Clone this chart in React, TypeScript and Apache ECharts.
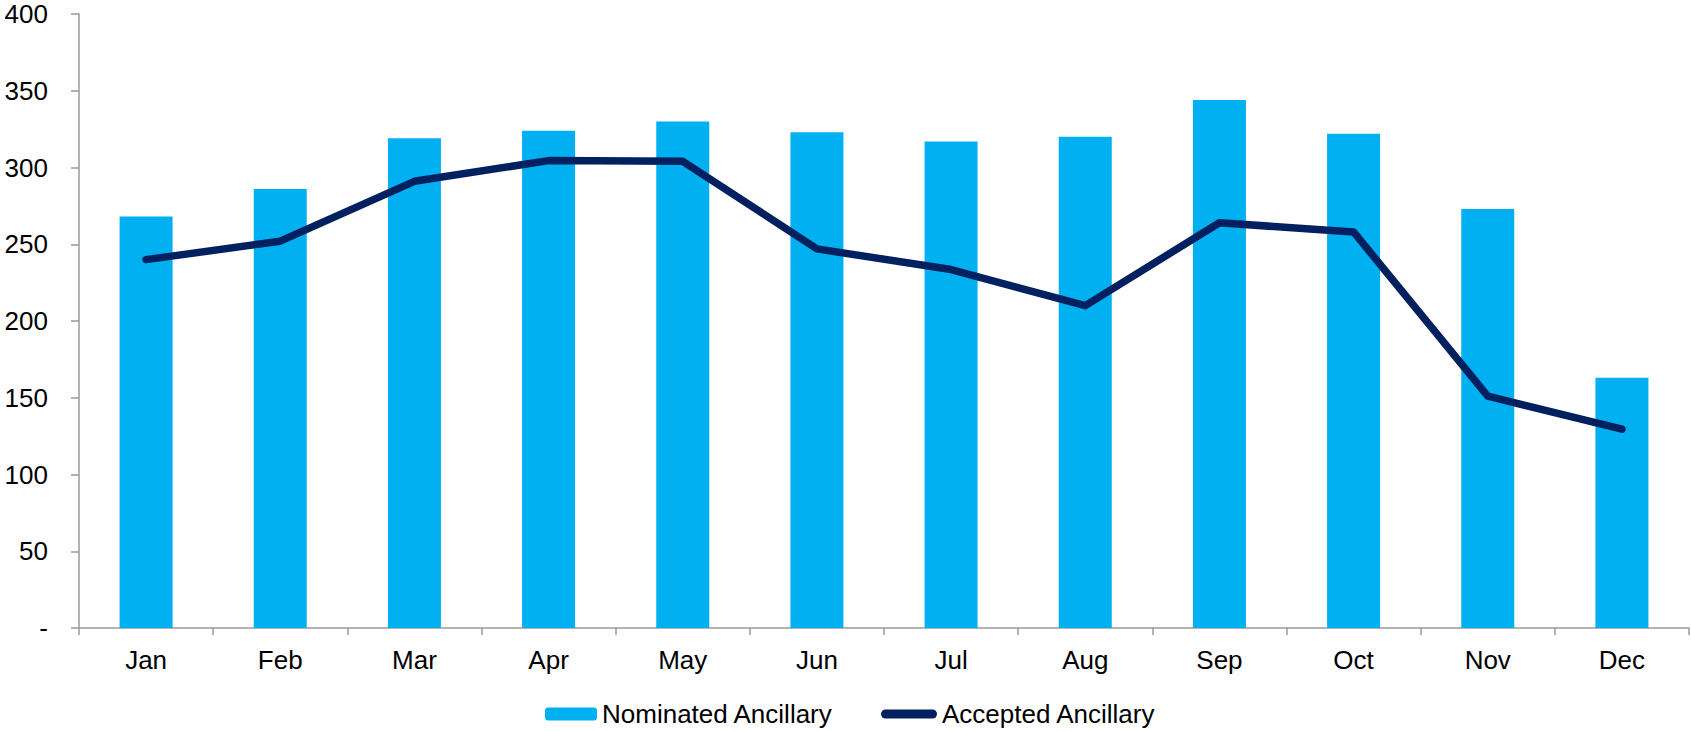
import React, { useEffect, useRef } from "react";
import * as echarts from "echarts";

const months = ["Jan", "Feb", "Mar", "Apr", "May", "Jun", "Jul", "Aug", "Sep", "Oct", "Nov", "Dec"];
const nominated = [268, 286, 319, 324, 330, 323, 317, 320, 344, 322, 273, 163];
const accepted = [240, 252, 291, 304.5, 304, 247, 233.5, 210, 264, 258, 151, 129.5];
const yTicks = { min: 0, max: 400, interval: 50 };

const FONT = "'Liberation Sans', Arial, sans-serif";
const AXIS_COLOR = "#9a9a9a";
const CAPSULE = "path://M4.5,0H51.5A4.5,4.5,0,0,1,51.5,9H4.5A4.5,4.5,0,0,1,4.5,0Z";

export default function App() {
  const ref = useRef<HTMLDivElement>(null);
  useEffect(() => {
    if (!ref.current) return;
    const chart = echarts.init(ref.current, null, { renderer: "svg" });
    chart.setOption({
      animation: false,
      backgroundColor: "#ffffff",
      textStyle: { fontFamily: FONT },
      grid: { left: 79, right: 2, top: 14, bottom: 103, containLabel: false },
      legend: [
        {
          data: ["Nominated Ancillary"],
          left: 540,
          top: 696,
          itemWidth: 52,
          itemHeight: 13,
          textStyle: { fontSize: 26, color: "#000", fontFamily: FONT },
          selectedMode: false,
        },
        {
          data: [{ name: "Accepted Ancillary", icon: CAPSULE }],
          left: 876,
          top: 696,
          itemWidth: 56,
          itemHeight: 9,
          itemStyle: { color: "#002060" },
          textStyle: { fontSize: 26, color: "#000", fontFamily: FONT },
          selectedMode: false,
        },
      ],
      xAxis: {
        type: "category",
        data: months,
        axisLine: { show: true, lineStyle: { color: AXIS_COLOR, width: 1.5 } },
        axisTick: { show: true, length: 7, lineStyle: { color: AXIS_COLOR, width: 1.5 } },
        axisLabel: { fontSize: 26, color: "#000", margin: 19, fontFamily: FONT },
        splitLine: { show: false },
      },
      yAxis: {
        type: "value",
        min: yTicks.min,
        max: yTicks.max,
        interval: yTicks.interval,
        axisLine: { show: true, lineStyle: { color: AXIS_COLOR, width: 1.5 } },
        axisTick: { show: true, length: 8, lineStyle: { color: AXIS_COLOR, width: 1.5 } },
        axisLabel: {
          fontSize: 26,
          color: "#000",
          margin: 31,
          fontFamily: FONT,
          formatter: (v: number) => (v === 0 ? "-" : String(v)),
        },
        splitLine: { show: false },
      },
      series: [
        {
          name: "Nominated Ancillary",
          type: "bar",
          data: nominated,
          barWidth: 53,
          itemStyle: { color: "#00b0f0" },
        },
        {
          name: "Accepted Ancillary",
          type: "line",
          data: accepted,
          symbol: "none",
          showSymbol: false,
          lineStyle: { color: "#002060", width: 7.5, cap: "round", join: "round" },
          itemStyle: { color: "#002060" },
        },
      ],
    });
    return () => chart.dispose();
  }, []);
  return (
    <div
      ref={ref}
      style={{ position: "fixed", left: 0, top: 0, width: 1691, height: 731, background: "#fff" }}
    />
  );
}
